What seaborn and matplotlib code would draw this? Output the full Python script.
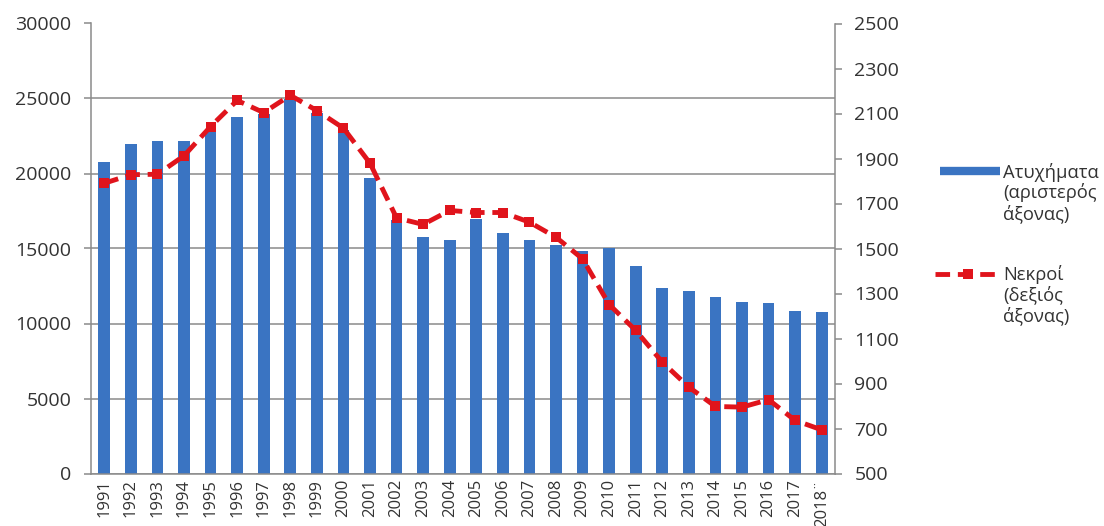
import numpy as np
import pandas as pd
import matplotlib
matplotlib.use("Agg")
import matplotlib.pyplot as plt
import seaborn as sns
from matplotlib.lines import Line2D

years = ["1991", "1992", "1993", "1994", "1995", "1996", "1997", "1998", "1999", "2000",
         "2001", "2002", "2003", "2004", "2005", "2006", "2007", "2008", "2009", "2010",
         "2011", "2012", "2013", "2014", "2015", "2016", "2017", "2018¨"]
accidents = [20750, 22000, 22150, 22200, 22900, 23800, 24000, 24950, 24050, 22900,
             19700, 16900, 15750, 15550, 16950, 16000, 15550, 15200, 14800, 15050,
             13850, 12400, 12150, 11750, 11450, 11350, 10850, 10750]
deaths = [1790, 1828, 1830, 1912, 2042, 2158, 2104, 2181, 2113, 2035,
          1879, 1636, 1607, 1669, 1660, 1660, 1617, 1550, 1454, 1251,
          1136, 995, 884, 798, 795, 828, 736, 694]
legend_labels = [["Ατυχήματα", "(αριστερός", "άξονας)"], ["Νεκροί", "(δεξιός", "άξονας)"]]

BLUE = "#3a74c2"
RED = "#e0141c"
GRID = "#8a8a8a"
TXT = "#333333"

sns.set_style("white")
plt.rcParams['font.family'] = ['Open Sans', 'DejaVu Sans']

df = pd.DataFrame({"year": years, "acc": accidents, "dead": deaths})

fig = plt.figure(figsize=(11.04, 5.26), dpi=100)
W, H = 1104, 526
ax = fig.add_axes([91 / W, 1 - 473.5 / H, (835 - 91) / W, (473.5 - 23.5) / H])

sns.barplot(data=df, x="year", y="acc", color=BLUE, width=0.44, ax=ax,
            saturation=1, edgecolor="none", linewidth=0)
ax.set_xlim(-0.5, len(years) - 0.5)
ax.set_ylim(0, 30000)
ax.set_yticks(np.arange(0, 30001, 5000))
ax.yaxis.grid(True, color=GRID, lw=1.1)
ax.set_axisbelow(True)
ax.set_xlabel("")
ax.set_ylabel("")

LS = (0, (3.0, 1.6))
ax2 = ax.twinx()
sns.lineplot(x=np.arange(len(years)), y=deaths, ax=ax2, color=RED, lw=3.5,
             linestyle=LS, marker="s", markersize=7.5, markeredgewidth=0,
             legend=False)
ax2.set_ylim(500, 2500)
ax2.set_yticks(np.arange(500, 2501, 200))
ax2.set_ylabel("")

for a in (ax, ax2):
    a.spines["top"].set_visible(False)
    for s in ("left", "right", "bottom"):
        a.spines[s].set_color(GRID)
        a.spines[s].set_linewidth(1.1)
ax.spines["right"].set_visible(False)
ax2.spines["left"].set_visible(False)
ax2.spines["bottom"].set_visible(False)

ax.tick_params(axis="y", length=5, width=1.1, color=GRID, pad=9, labelsize=14, labelcolor=TXT)
ax2.tick_params(axis="y", length=5, width=1.1, color=GRID, pad=9, labelsize=14, labelcolor=TXT)
ax.set_xticks(np.arange(len(years)))
ax.set_xticklabels(years, rotation=90, fontsize=12, color=TXT)
ax.tick_params(axis="x", which="major", length=0, pad=4)
ax.set_xticks(np.arange(-0.5, len(years), 1.0), minor=True)
ax.tick_params(axis="x", which="minor", length=5, width=1.1, color=GRID)

# legend (handles aligned to first line like the original)
def fy(py):
    return 1 - py / H

fig.add_artist(Line2D([940 / W, 1000 / W], [fy(171), fy(171)], color=BLUE, lw=6,
                      solid_capstyle="butt"))
fig.add_artist(Line2D([935 / W, 968 / W, 1001 / W], [fy(274), fy(274), fy(274)], color=RED,
                      lw=3.5, linestyle=LS, marker="s", markersize=7.5,
                      markeredgewidth=0, markevery=[1]))
for lines, y0 in zip(legend_labels, (172, 274)):
    for i, t in enumerate(lines):
        fig.text(1003 / W, fy(y0 + i * 21), t, ha="left", va="center",
                 fontsize=13.2, color=TXT)

fig.savefig("out.png", dpi=100)
